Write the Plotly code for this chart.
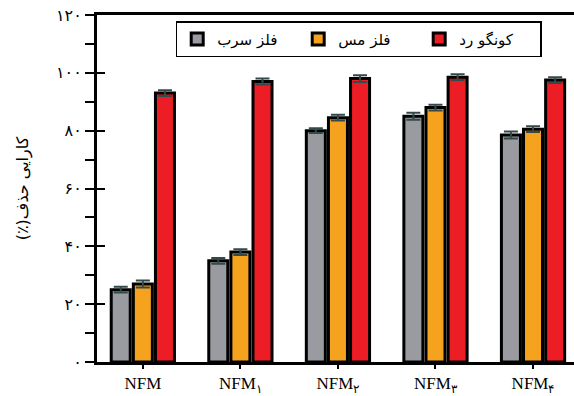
import plotly.graph_objects as go

# Samples and removal efficiency (%) for each pollutant
samples = ["NFM", "NFM<sub>۱</sub>", "NFM<sub>۲</sub>", "NFM<sub>۳</sub>", "NFM<sub>۴</sub>"]
lead = [25, 35, 80, 85, 78.5]
copper = [27, 38, 84.5, 88, 80.5]
congo_red = [93, 97, 98, 98.5, 97.5]
lead_err = [1, 1, 0.8, 1.2, 1.2]
copper_err = [1.2, 1, 1, 1, 1]
congo_err = [1, 1, 1.2, 1, 1]

series_names = ["فلز سرب", "فلز مس", "کونگو رد"]
colors = ["#999ba0", "#f5a31f", "#ec1d25"]

y_ticks = [0, 20, 40, 60, 80, 100, 120]
y_tick_text = ["۰", "۲۰", "۴۰", "۶۰", "۸۰", "۱۰۰", "۱۲۰"]

# right-to-left embedding keeps the percent sign at the end of the Persian title
y_title = "\u202bکارایی حذف(٪)\u202c"

x_idx = list(range(len(samples)))

fig = go.Figure()
for name, vals, errs, col in zip(series_names, [lead, copper, congo_red],
                                 [lead_err, copper_err, congo_err], colors):
    fig.add_trace(go.Bar(
        x=x_idx, y=vals, name=name,
        marker=dict(color=col, line=dict(color="black", width=3)),
        error_y=dict(type="data", array=errs, visible=True,
                     color="#34494a", thickness=2, width=7),
    ))

# invisible trace carrying the inward half of the major y ticks
fig.add_trace(go.Scatter(x=[0], y=[0], yaxis="y2", mode="markers",
                         marker=dict(opacity=0), showlegend=False,
                         hoverinfo="skip"))

fig.update_layout(
    width=574, height=396,
    margin=dict(l=97, r=0, t=15, b=31),
    plot_bgcolor="white", paper_bgcolor="white",
    barmode="group", bargap=0.32, bargroupgap=0.14,
    showlegend=True,
    legend=dict(
        orientation="h", x=0.165, y=0.982, xanchor="left", yanchor="top",
        bordercolor="black", borderwidth=1.5, bgcolor="white",
        font=dict(family="DejaVu Sans", size=15, color="black"),
        itemwidth=30, tracegroupgap=0,
        entrywidth=76, entrywidthmode="pixels",
    ),
    xaxis=dict(
        range=[-0.47, 4.42], tickmode="array", tickvals=x_idx, ticktext=samples,
        showline=True, linecolor="black", linewidth=3, mirror=True,
        ticks="outside", ticklen=4, tickwidth=2, tickcolor="black",
        showgrid=False, zeroline=False,
        tickfont=dict(family="Liberation Serif", size=17, color="black"),
    ),
    yaxis=dict(
        range=[0, 120], tickmode="array", tickvals=y_ticks, ticktext=y_tick_text,
        showline=True, linecolor="black", linewidth=3,
        ticks="outside", ticklen=9, tickwidth=2, tickcolor="black",
        minor=dict(dtick=10, ticks="outside", ticklen=9, tickwidth=2,
                   tickcolor="black", showgrid=False),
        showgrid=False, zeroline=False,
        tickfont=dict(family="DejaVu Sans", size=16, color="black"),
        title=dict(text=y_title, standoff=24,
                   font=dict(family="DejaVu Sans", size=16, color="black")),
    ),
    yaxis2=dict(
        overlaying="y", side="left", range=[0, 120],
        tickmode="array", tickvals=y_ticks, showticklabels=False,
        ticks="inside", ticklen=8, tickwidth=2, tickcolor="black",
        showline=False, showgrid=False, zeroline=False,
    ),
)

fig.write_html("out.html")
